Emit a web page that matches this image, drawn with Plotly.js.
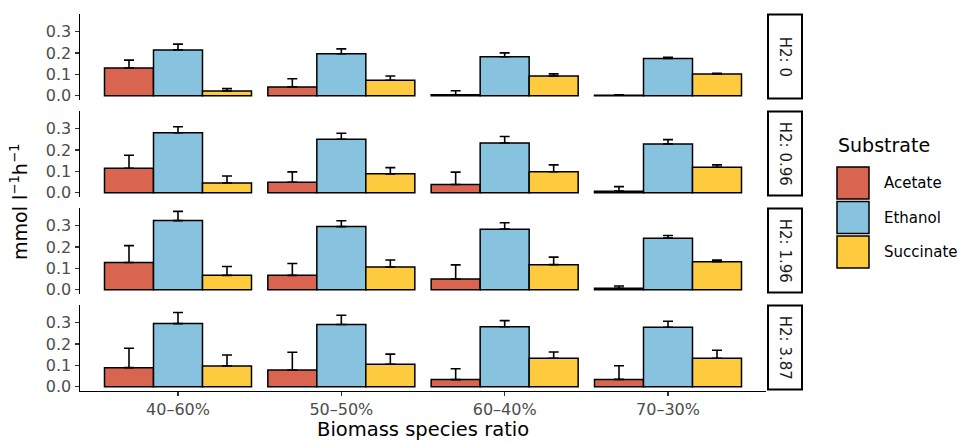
<!DOCTYPE html>
<html>
<head>
<meta charset="utf-8">
<script src="https://cdn.plot.ly/plotly-3.0.1.min.js"></script>
<style>html,body{margin:0;padding:0;background:#fff;}</style>
</head>
<body>
<div id="chart" style="width:964px;height:442px;"></div>
<script>
// ---- data ----
const ratios = ['40–60%', '50–50%', '60–40%', '70–30%'];
const h2Levels = ['H2: 0', 'H2: 0.96', 'H2: 1.96', 'H2: 3.87'];
const substrates = ['Acetate', 'Ethanol', 'Succinate'];

// mean values per H2 level (rows) and ratio (columns)
const acetate = [
  [0.129, 0.041, 0.004, 0.002],
  [0.114, 0.049, 0.038, 0.007],
  [0.127, 0.067, 0.050, 0.006],
  [0.089, 0.078, 0.033, 0.034]
];
const ethanol = [
  [0.214, 0.196, 0.182, 0.174],
  [0.280, 0.250, 0.232, 0.228],
  [0.323, 0.295, 0.283, 0.241],
  [0.295, 0.291, 0.280, 0.278]
];
const succinate = [
  [0.022, 0.072, 0.092, 0.101],
  [0.045, 0.088, 0.098, 0.119],
  [0.067, 0.106, 0.117, 0.131],
  [0.097, 0.105, 0.133, 0.133]
];
// upper error (sd)
const acetateErr = [
  [0.037, 0.038, 0.019, 0.002],
  [0.061, 0.048, 0.058, 0.021],
  [0.079, 0.055, 0.066, 0.011],
  [0.091, 0.083, 0.051, 0.064]
];
const ethanolErr = [
  [0.027, 0.023, 0.018, 0.005],
  [0.028, 0.028, 0.031, 0.020],
  [0.043, 0.027, 0.030, 0.012],
  [0.052, 0.043, 0.029, 0.028]
];
const succinateErr = [
  [0.011, 0.020, 0.010, 0.004],
  [0.033, 0.029, 0.032, 0.011],
  [0.041, 0.033, 0.035, 0.008],
  [0.051, 0.047, 0.029, 0.037]
];
const colors = ['#D9644F', '#87C3DF', '#FECB3F'];

// ---- layout helpers ----
const W = 964, H = 442;
const px = x => x / W;
const py = y => 1 - y / H;
const panelTops = [14, 111, 208, 305];
const panelH = 85.5;
const xLeft = 80, xRight = 766;
const FONT = 'DejaVu Sans, Liberation Sans, Arial, sans-serif';

const means = [acetate, ethanol, succinate];
const errs = [acetateErr, ethanolErr, succinateErr];

const traces = [];
for (let r = 0; r < h2Levels.length; r++) {
  for (let s = 0; s < substrates.length; s++) {
    traces.push({
      type: 'bar',
      name: substrates[s],
      x: ratios,
      y: means[s][r],
      xaxis: r === 0 ? 'x' : 'x' + (r + 1),
      yaxis: r === 0 ? 'y' : 'y' + (r + 1),
      marker: {color: colors[s], line: {color: '#000', width: 1.5}},
      error_y: {type: 'data', symmetric: false, array: errs[s][r],
                arrayminus: errs[s][r].map(() => 0),
                color: '#000', thickness: 1.6, width: 5},
      showlegend: false,
      hoverinfo: 'skip'
    });
  }
}

const layout = {
  width: W, height: H,
  margin: {l: 0, r: 0, t: 0, b: 0},
  paper_bgcolor: '#fff', plot_bgcolor: '#fff',
  barmode: 'group', bargap: 0.1, bargroupgap: 0,
  font: {family: FONT, color: '#000'},
  showlegend: false,
  shapes: [],
  annotations: []
};

for (let r = 0; r < h2Levels.length; r++) {
  const sfx = r === 0 ? '' : String(r + 1);
  const top = panelTops[r], bot = top + panelH;
  const last = r === h2Levels.length - 1;
  layout['xaxis' + sfx] = {
    domain: [px(xLeft), px(xRight)],
    anchor: 'y' + sfx,
    type: 'category',
    range: [-0.6, 3.6],
    showgrid: false, zeroline: false,
    showline: last, linecolor: '#000', linewidth: 1.5,
    ticks: last ? 'outside' : '', ticklen: 4, tickwidth: 1.5, tickcolor: '#333',
    showticklabels: last,
    tickfont: {family: FONT, size: 16, color: '#4D4D4D'},
    fixedrange: true
  };
  layout['yaxis' + sfx] = {
    domain: [py(bot), py(top)],
    anchor: 'x' + sfx,
    range: [-0.018, 0.382],
    tickvals: [0, 0.1, 0.2, 0.3],
    ticktext: ['0.0', '0.1', '0.2', '0.3'],
    showgrid: false, zeroline: false,
    showline: true, linecolor: '#000', linewidth: 1.5,
    ticks: 'outside', ticklen: 4, tickwidth: 1.5, tickcolor: '#333',
    tickfont: {family: FONT, size: 16, color: '#4D4D4D'},
    fixedrange: true
  };
  // facet strip
  layout.shapes.push({
    type: 'rect', xref: 'paper', yref: 'paper',
    x0: px(768), x1: px(802), y0: py(bot - 1), y1: py(top + 0.5),
    line: {color: '#000', width: 2}, fillcolor: '#fff'
  });
  layout.annotations.push({
    xref: 'paper', yref: 'paper', x: px(785), y: py(top + panelH / 2),
    text: h2Levels[r], textangle: 90, showarrow: false,
    font: {family: FONT, size: 15, color: '#1A1A1A'},
    xanchor: 'center', yanchor: 'middle'
  });
}

// axis titles
layout.annotations.push({
  xref: 'paper', yref: 'paper', x: px((xLeft + xRight) / 2), y: py(429),
  text: 'Biomass species ratio', showarrow: false,
  font: {family: FONT, size: 19.5, color: '#000'},
  xanchor: 'center', yanchor: 'middle'
});
layout.annotations.push({
  xref: 'paper', yref: 'paper', x: px(19), y: py(202),
  text: 'mmol l<sup>−1</sup>h<sup>−1</sup>', showarrow: false, textangle: -90,
  font: {family: FONT, size: 19, color: '#000'},
  xanchor: 'center', yanchor: 'middle'
});

// legend (manual, ggplot style)
layout.annotations.push({
  xref: 'paper', yref: 'paper', x: px(836), y: py(145),
  text: 'Substrate', showarrow: false,
  font: {family: FONT, size: 19, color: '#000'},
  xanchor: 'left', yanchor: 'middle'
});
const keyTops = [167, 201.5, 236];
for (let s = 0; s < substrates.length; s++) {
  layout.shapes.push({
    type: 'rect', xref: 'paper', yref: 'paper',
    x0: px(837), x1: px(869), y0: py(keyTops[s] + 32), y1: py(keyTops[s]),
    line: {color: '#000', width: 1.5}, fillcolor: colors[s]
  });
  layout.annotations.push({
    xref: 'paper', yref: 'paper', x: px(882), y: py(keyTops[s] + 16),
    text: substrates[s], showarrow: false,
    font: {family: FONT, size: 15, color: '#000'},
    xanchor: 'left', yanchor: 'middle'
  });
}

Plotly.newPlot('chart', traces, layout, {displayModeBar: false, staticPlot: true});
</script>
</body>
</html>
